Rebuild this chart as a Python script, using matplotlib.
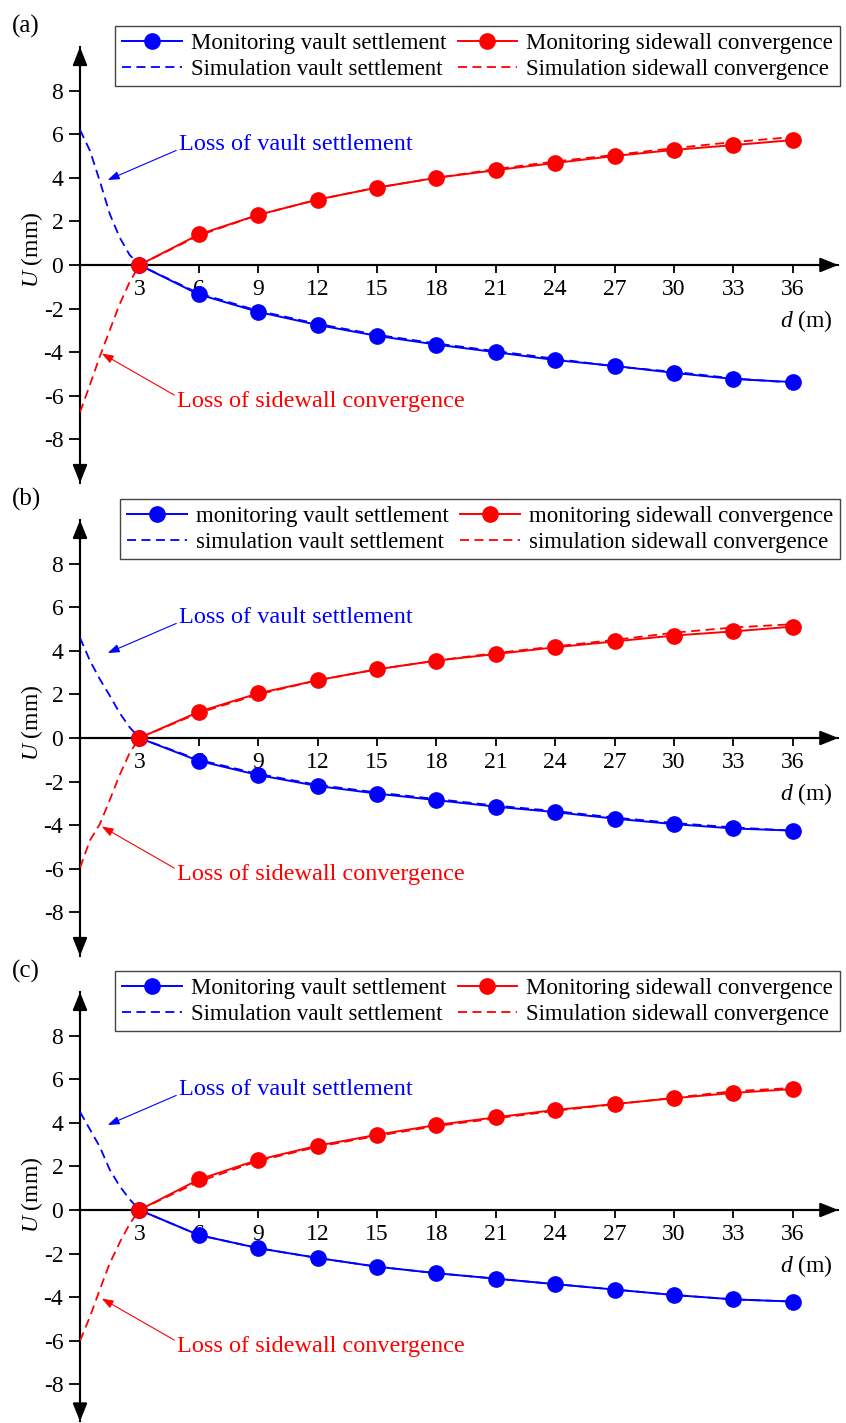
import numpy as np
import matplotlib
matplotlib.use('Agg')
import matplotlib.pyplot as plt

plt.rcParams['font.family'] = 'Liberation Serif'
plt.rcParams['mathtext.fontset'] = 'custom'
plt.rcParams['mathtext.rm'] = 'Liberation Serif'
plt.rcParams['mathtext.it'] = 'Liberation Serif:italic'

# monitoring points (m)
d_mon = [3, 6, 9, 12, 15, 18, 21, 24, 27, 30, 33, 36]
# simulation points (m)
d_sim = [0, 0.5, 1, 1.5, 2, 2.5, 3, 6, 9, 12, 15, 18, 21, 24, 27, 30, 33, 36]

# panel (a)
a_vault_mon = [0, -1.35, -2.15, -2.75, -3.25, -3.65, -4.0, -4.36, -4.63, -4.95, -5.23, -5.37]
a_wall_mon = [0, 1.4, 2.3, 3.0, 3.55, 4.0, 4.35, 4.68, 5.0, 5.28, 5.5, 5.73]
a_vault_sim = [6.2, 5.25, 3.85, 2.35, 1.27, 0.47, 0,
               -1.3, -2.1, -2.7, -3.2, -3.6, -3.95, -4.3, -4.65, -4.9, -5.2, -5.4]
a_wall_sim = [-6.75, -5.5, -4.2, -3.0, -1.8, -0.8, 0,
              1.35, 2.3, 3.0, 3.55, 4.0, 4.4, 4.75, 5.05, 5.36, 5.64, 5.87]

# panel (b)
b_vault_mon = [0, -1.05, -1.7, -2.2, -2.55, -2.85, -3.15, -3.4, -3.7, -3.95, -4.15, -4.25]
b_wall_mon = [0, 1.2, 2.05, 2.65, 3.15, 3.55, 3.85, 4.16, 4.43, 4.7, 4.89, 5.11]
b_vault_sim = [4.6, 3.55, 2.7, 1.95, 1.15, 0.5, 0,
               -1.0, -1.65, -2.15, -2.5, -2.8, -3.1, -3.35, -3.65, -3.9, -4.1, -4.25]
b_wall_sim = [-5.95, -4.7, -3.95, -2.85, -1.7, -0.7, 0,
              1.15, 2.0, 2.65, 3.15, 3.55, 3.9, 4.2, 4.5, 4.83, 5.07, 5.22]

# panel (c)
c_vault_mon = [0, -1.15, -1.75, -2.2, -2.6, -2.9, -3.15, -3.4, -3.65, -3.9, -4.1, -4.2]
c_wall_mon = [0, 1.4, 2.3, 2.95, 3.45, 3.9, 4.25, 4.59, 4.86, 5.13, 5.37, 5.55]
c_vault_sim = [4.5, 3.7, 2.9, 1.85, 1.1, 0.5, 0,
               -1.15, -1.75, -2.2, -2.6, -2.9, -3.15, -3.4, -3.65, -3.9, -4.1, -4.2]
c_wall_sim = [-6.0, -4.9, -3.65, -2.45, -1.5, -0.65, 0,
              1.3, 2.25, 2.9, 3.4, 3.85, 4.2, 4.55, 4.85, 5.15, 5.45, 5.6]

labels_upper = ['Monitoring vault settlement', 'Simulation vault settlement',
                'Monitoring sidewall convergence', 'Simulation sidewall convergence']
labels_lower = [s[0].lower() + s[1:] for s in labels_upper]

x_ticks = np.arange(3, 37, 3)
y_ticks = np.arange(-8, 9, 2)

W, H = 846, 1423
fig = plt.figure(figsize=(W / 100, H / 100), dpi=100)

BLUE = '#0000ff'
RED = '#ff0000'
px_x = 19.8   # pixels per metre
px_y = 21.8   # pixels per mm
x0_px = 80

panels = [
    ('(a)', 265, -10.0, a_vault_mon, a_wall_mon, a_vault_sim, a_wall_sim, labels_upper),
    ('(b)', 738, -10.0, b_vault_mon, b_wall_mon, b_vault_sim, b_wall_sim, labels_lower),
    ('(c)', 1210, -9.7, c_vault_mon, c_wall_mon, c_vault_sim, c_wall_sim, labels_upper),
]

xmax = 38.3
ymax = 10.0
for tag, zero_px, ymin, v_mon, w_mon, v_sim, w_sim, labs in panels:
    top_px = zero_px - ymax * px_y
    bot_px = zero_px - ymin * px_y
    ax = fig.add_axes([x0_px / W, 1 - bot_px / H, xmax * px_x / W, (bot_px - top_px) / H])
    ax.set_xlim(0, xmax)
    ax.set_ylim(ymin, ymax)
    ax.patch.set_alpha(0)

    ax.spines['top'].set_visible(False)
    ax.spines['right'].set_visible(False)
    ax.spines['left'].set_position(('data', 0))
    ax.spines['bottom'].set_position(('data', 0))
    for s in ['left', 'bottom']:
        ax.spines[s].set_linewidth(1.5)

    ax.set_xticks(x_ticks)
    ax.set_xticklabels([str(t) for t in x_ticks])
    ax.set_yticks(y_ticks)
    ax.set_yticklabels([str(t) for t in y_ticks])
    ax.tick_params(direction='out', width=1.3, labelsize=17)
    ax.tick_params(axis='x', length=6, pad=4)
    ax.tick_params(axis='y', length=8, pad=4)

    # arrows on axes
    ax.annotate('', xy=(xmax, 0), xytext=(0, 0),
                arrowprops=dict(arrowstyle='-|>,head_length=0.55,head_width=0.22',
                                mutation_scale=20, color='k', lw=1.5,
                                shrinkA=0, shrinkB=0), annotation_clip=False)
    ax.annotate('', xy=(0, ymax), xytext=(0, ymin),
                arrowprops=dict(arrowstyle='<|-|>,head_length=0.55,head_width=0.22',
                                mutation_scale=20, color='k', lw=1.5,
                                shrinkA=0, shrinkB=0), annotation_clip=False)

    dash = (0, (5, 3))
    l2, = ax.plot(d_sim, v_sim, color=BLUE, lw=1.3, ls=dash, zorder=3)
    l4, = ax.plot(d_sim, w_sim, color=RED, lw=1.3, ls=dash, zorder=3)
    l1, = ax.plot(d_mon, v_mon, color=BLUE, lw=1.4, marker='o', ms=11, zorder=4)
    l3, = ax.plot(d_mon, w_mon, color=RED, lw=1.4, marker='o', ms=11, zorder=5)

    # annotations
    ax.annotate('Loss of vault settlement', xy=(1.4, 3.9), xytext=(5.0, 5.55),
                color=BLUE, fontsize=17.5, va='center', ha='left',
                arrowprops=dict(arrowstyle='-|>,head_length=0.5,head_width=0.18',
                                mutation_scale=14, color=BLUE, lw=0.8,
                                shrinkA=0, shrinkB=0,
                                relpos=(0, 0.25)))
    ax.annotate('Loss of sidewall convergence', xy=(1.1, -4.06), xytext=(4.9, -6.28),
                color=RED, fontsize=17.5, va='center', ha='left',
                arrowprops=dict(arrowstyle='-|>,head_length=0.5,head_width=0.18',
                                mutation_scale=14, color=RED, lw=0.8,
                                shrinkA=0, shrinkB=0,
                                relpos=(0, 0.75)))

    ax.text(38.0, -56 / px_y, '$d$ (m)', fontsize=17, ha='right', va='center')
    ax.text(-48 / px_x, 0.7, '$U$ (mm)', fontsize=17, rotation=90,
            ha='center', va='center', clip_on=False)

    leg_top = zero_px - 239
    ax.legend([l1, l2, l3, l4], labs, ncol=2, loc='upper right',
              bbox_to_anchor=(840 / W, 1 - leg_top / H), bbox_transform=fig.transFigure,
              fontsize=16.5, frameon=True, fancybox=False, framealpha=1,
              edgecolor='#444444', handlelength=2.6, handletextpad=0.4,
              columnspacing=0.5, labelspacing=0.2, borderpad=0.3,
              borderaxespad=0, numpoints=1)
    ax.get_legend().get_frame().set_linewidth(1.0)

    fig.text(12 / W, 1 - (zero_px - 239) / H, tag, fontsize=18, ha='left', va='center')

fig.savefig('out.png', dpi=100)
